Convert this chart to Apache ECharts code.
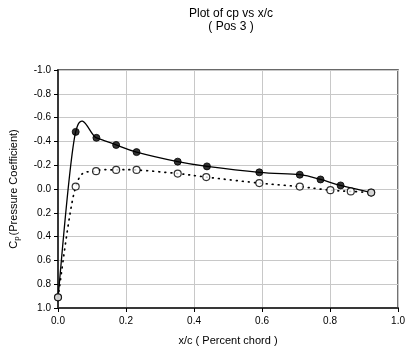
<!DOCTYPE html>
<html>
<head>
<meta charset="utf-8">
<style>
  html, body { margin: 0; padding: 0; background: #ffffff; }
  #chart { width: 408px; height: 355px; }
</style>
<script src="https://cdn.jsdelivr.net/npm/echarts@6/dist/echarts.min.js"></script>
</head>
<body>
<div id="chart"></div>
<script>
// Upper surface pressure taps (filled markers, solid curve)
const xUpper = [0, 0.052, 0.113, 0.171, 0.231, 0.352, 0.438, 0.592, 0.711, 0.772, 0.831, 0.921];
const cpUpper = [0.91, -0.48, -0.43, -0.37, -0.31, -0.23, -0.19, -0.14, -0.12, -0.08, -0.03, 0.03];

// Lower surface pressure taps (open markers, dotted curve)
const xLower = [0, 0.052, 0.112, 0.171, 0.231, 0.352, 0.436, 0.592, 0.711, 0.801, 0.861, 0.921];
const cpLower = [0.91, -0.02, -0.15, -0.16, -0.16, -0.13, -0.10, -0.05, -0.02, 0.01, 0.02, 0.03];

// Axis ticks
const xTicks = [0, 0.2, 0.4, 0.6, 0.8, 1.0];
const yTicks = [-1.0, -0.8, -0.6, -0.4, -0.2, 0.0, 0.2, 0.4, 0.6, 0.8, 1.0];

const FONT = '"Liberation Sans", Arial, sans-serif';

function pairs(xs, ys) { return xs.map((x, i) => [x, ys[i]]); }

// Smooth curve through the points (Catmull-Rom style cubic Bezier in pixel space)
function smoothPath(pts) {
  let d = 'M' + pts[0][0] + ' ' + pts[0][1];
  for (let i = 0; i < pts.length - 1; i++) {
    const p0 = pts[i - 1] || pts[i];
    const p1 = pts[i];
    const p2 = pts[i + 1];
    const p3 = pts[i + 2] || pts[i + 1];
    const c1x = p1[0] + (p2[0] - p0[0]) / 6;
    const c1y = p1[1] + (p2[1] - p0[1]) / 6;
    const c2x = p2[0] - (p3[0] - p1[0]) / 6;
    const c2y = p2[1] - (p3[1] - p1[1]) / 6;
    d += ' C' + c1x + ' ' + c1y + ' ' + c2x + ' ' + c2y + ' ' + p2[0] + ' ' + p2[1];
  }
  return d;
}

function curveSeries(xs, ys, dash) {
  return {
    type: 'custom',
    coordinateSystem: 'cartesian2d',
    data: [[xs[0], ys[0]]],
    silent: true,
    z: 2,
    renderItem: function (params, api) {
      const pts = xs.map((x, i) => api.coord([x, ys[i]]));
      return {
        type: 'path',
        shape: { pathData: smoothPath(pts) },
        style: {
          fill: null,
          stroke: '#000000',
          lineWidth: dash ? 1.7 : 1.3,
          lineDash: dash ? [0.8, 5.2] : null,
          lineCap: dash ? 'round' : 'butt'
        }
      };
    }
  };
}

const chart = echarts.init(document.getElementById('chart'), null, { renderer: 'canvas' });

chart.setOption({
  animation: false,
  backgroundColor: '#ffffff',
  textStyle: { fontFamily: FONT },
  graphic: [
    { type: 'text', x: 231, y: 14, style: { text: 'Plot of cp vs x/c', font: '12px ' + FONT, fill: '#000', align: 'center', verticalAlign: 'middle' } },
    { type: 'text', x: 231, y: 27, style: { text: '( Pos 3 )', font: '12px ' + FONT, fill: '#000', align: 'center', verticalAlign: 'middle' } }
  ],
  grid: {
    left: 58, right: 7, top: 70, bottom: 47,
    show: true, borderColor: '#383838', borderWidth: 1.5, backgroundColor: 'transparent'
  },
  xAxis: {
    type: 'value', min: 0, max: 1, interval: 0.2,
    name: 'x/c ( Percent chord )',
    nameLocation: 'middle', nameGap: 27,
    nameTextStyle: { fontSize: 11, color: '#000', fontFamily: FONT },
    axisLine: { show: true, onZero: false, lineStyle: { color: '#383838', width: 2 } },
    axisTick: { show: true, length: 4, lineStyle: { color: '#000', width: 1 } },
    axisLabel: { fontSize: 10, color: '#000', margin: 8, formatter: v => v.toFixed(1) },
    splitLine: { show: true, lineStyle: { color: '#c8c8c8', width: 1 } }
  },
  yAxis: {
    type: 'value', min: -1, max: 1, interval: 0.2, inverse: true,
    name: '{c|C}{p|p}{c|(Pressure Coefficient)}',
    nameLocation: 'middle', nameRotate: 90, nameGap: 37,
    nameTextStyle: {
      color: '#000',
      rich: {
        c: { fontSize: 11, fontFamily: FONT, color: '#000' },
        p: { fontSize: 8, fontFamily: FONT, color: '#000', verticalAlign: 'bottom', padding: [7, 1, 0, 0] }
      }
    },
    axisLine: { show: true, onZero: false, lineStyle: { color: '#383838', width: 2 } },
    axisTick: { show: true, length: 4, lineStyle: { color: '#000', width: 1 } },
    axisLabel: { fontSize: 10, color: '#000', margin: 7, formatter: v => v.toFixed(1) },
    splitLine: { show: true, lineStyle: { color: '#c8c8c8', width: 1 } }
  },
  series: [
    curveSeries(xUpper, cpUpper, false),
    curveSeries(xLower, cpLower, true),
    {
      type: 'scatter', symbol: 'circle', symbolSize: 7, z: 4,
      data: pairs(xUpper, cpUpper),
      itemStyle: { color: '#000000', borderColor: '#000000', borderWidth: 1 }
    },
    {
      type: 'scatter', symbol: 'circle', symbolSize: 7, z: 5,
      data: pairs(xLower, cpLower),
      itemStyle: { color: '#ffffff', borderColor: '#000000', borderWidth: 1.2 }
    }
  ]
});
</script>
</body>
</html>
